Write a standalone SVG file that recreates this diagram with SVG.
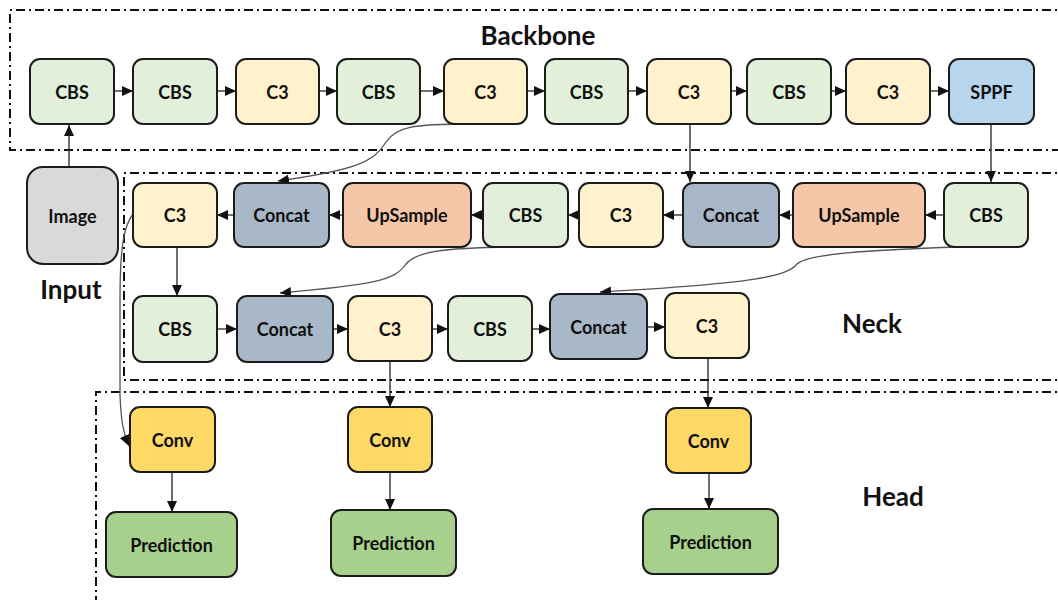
<svg xmlns="http://www.w3.org/2000/svg" width="1058" height="600" viewBox="0 0 1058 600">
  <style>
    .node rect { stroke: #1c1c1c; stroke-width: 2; }
    .node text { font-family: Lato, "Open Sans", "Liberation Sans", sans-serif; font-weight: 700; font-size: 18px; fill: #111; text-anchor: middle; dominant-baseline: central; }
    .cbs { fill: #e2efda; }
    .c3 { fill: #fff2cc; }
    .sppf { fill: #b7d5ec; }
    .concat { fill: #a9b8c8; }
    .up { fill: #f5c6a8; }
    .conv { fill: #ffd966; }
    .pred { fill: #a8d08d; }
    .img { fill: #d9d9d9; }
    .frame { fill: none; stroke: #111; stroke-width: 2; stroke-dasharray: 9 4 2 4; }
    .label { font-family: Lato, "Open Sans", "Liberation Sans", sans-serif; font-weight: 700; font-size: 26px; fill: #111; text-anchor: middle; }
    .edges path { fill: none; stroke: #222; stroke-width: 1.3; marker-end: url(#arrow); }
    .edges path.curve { stroke: #555; }
  </style>
  <defs>
    <marker id="arrow" markerUnits="userSpaceOnUse" markerWidth="12" markerHeight="10" refX="11" refY="5" orient="auto">
      <path d="M0,0 L11,5 L0,10 z" fill="#111"/>
    </marker>
  </defs>

  <rect width="1058" height="600" fill="#ffffff"/>

  <!-- section frames -->
  <g id="frames">
    <path class="frame" d="M1070,10 H10 V150 H1070"/>
    <path class="frame" d="M1070,173 H124 V380 H1070"/>
    <path class="frame" d="M1070,392 H96 V610"/>
  </g>

  <!-- section labels -->
  <text class="label" x="538" y="45">Backbone</text>
  <text class="label" x="71" y="299">Input</text>
  <text class="label" x="872" y="333">Neck</text>
  <text class="label" x="893" y="506">Head</text>

  <!-- connectors -->
  <g class="edges" id="connectors">
    <!-- input -->
    <path d="M69,167 V125"/>
    <!-- backbone chain -->
    <path d="M114,91 H133"/>
    <path d="M217,91 H236"/>
    <path d="M319,91 H337"/>
    <path d="M420,91 H444"/>
    <path d="M527,91 H545"/>
    <path d="M628,91 H647"/>
    <path d="M731,91 H747"/>
    <path d="M831,91 H846"/>
    <path d="M930,91 H949"/>
    <!-- backbone to neck -->
    <path d="M991,124 V182"/>
    <path d="M690,124 V182"/>
    <path class="curve" d="M470,124 C412,124 396,127 386,142 C374,162 356,170 278,181"/>
    <!-- neck top row (right to left) -->
    <path d="M944,215 H925"/>
    <path d="M793,215 H779"/>
    <path d="M683,215 H663"/>
    <path d="M579,215 H568"/>
    <path d="M483,215 H471"/>
    <path d="M343,215 H329"/>
    <path d="M234,215 H217"/>
    <!-- neck down links -->
    <path d="M177,247 V296"/>
    <path class="curve" d="M510,247 C440,248 416,252 406,264 C395,281 370,285 280,293"/>
    <path class="curve" d="M960,247 C865,250 808,254 797,264 C787,276 760,283 600,292"/>
    <!-- neck bottom row (left to right) -->
    <path d="M217,329 H237"/>
    <path d="M333,329 H348"/>
    <path d="M432,329 H448"/>
    <path d="M532,329 H550"/>
    <path d="M647,327 H665"/>
    <!-- neck to head -->
    <path class="curve" d="M133,214 C124,226 120,245 120,300 L120,395 C121,420 123,433 129,446"/>
    <path d="M390,361 V407"/>
    <path d="M708,358 V408"/>
    <!-- head -->
    <path d="M172,472 V512"/>
    <path d="M390,472 V510"/>
    <path d="M709,473 V509"/>
  </g>

  <!-- input -->
  <g class="node" id="image"><rect class="img" x="27" y="167" width="91" height="97" rx="16"/><text x="72.5" y="216">Image</text></g>

  <!-- backbone -->
  <g class="node" id="b-cbs1"><rect class="cbs" x="30" y="59" width="84" height="65" rx="10"/><text x="72" y="92">CBS</text></g>
  <g class="node" id="b-cbs2"><rect class="cbs" x="133" y="59" width="84" height="65" rx="10"/><text x="175" y="92">CBS</text></g>
  <g class="node" id="b-c3-1"><rect class="c3" x="236" y="59" width="83" height="65" rx="10"/><text x="277.5" y="92">C3</text></g>
  <g class="node" id="b-cbs3"><rect class="cbs" x="337" y="59" width="83" height="65" rx="10"/><text x="378.5" y="92">CBS</text></g>
  <g class="node" id="b-c3-2"><rect class="c3" x="444" y="59" width="83" height="65" rx="10"/><text x="485.5" y="92">C3</text></g>
  <g class="node" id="b-cbs4"><rect class="cbs" x="545" y="59" width="83" height="65" rx="10"/><text x="586.5" y="92">CBS</text></g>
  <g class="node" id="b-c3-3"><rect class="c3" x="647" y="59" width="84" height="65" rx="10"/><text x="689" y="92">C3</text></g>
  <g class="node" id="b-cbs5"><rect class="cbs" x="747" y="59" width="84" height="65" rx="10"/><text x="789" y="92">CBS</text></g>
  <g class="node" id="b-c3-4"><rect class="c3" x="846" y="59" width="84" height="65" rx="10"/><text x="888" y="92">C3</text></g>
  <g class="node" id="b-sppf"><rect class="sppf" x="949" y="59" width="85" height="65" rx="10"/><text x="991.5" y="92">SPPF</text></g>

  <!-- neck, top row -->
  <g class="node" id="n-c3-a"><rect class="c3" x="133" y="183" width="84" height="64" rx="10"/><text x="175" y="215">C3</text></g>
  <g class="node" id="n-concat-a"><rect class="concat" x="234" y="183" width="95" height="64" rx="10"/><text x="281.5" y="215">Concat</text></g>
  <g class="node" id="n-up-a"><rect class="up" x="343" y="183" width="128" height="64" rx="10"/><text x="407" y="215">UpSample</text></g>
  <g class="node" id="n-cbs-a"><rect class="cbs" x="483" y="183" width="85" height="64" rx="10"/><text x="525.5" y="215">CBS</text></g>
  <g class="node" id="n-c3-b"><rect class="c3" x="579" y="183" width="84" height="64" rx="10"/><text x="621" y="215">C3</text></g>
  <g class="node" id="n-concat-b"><rect class="concat" x="683" y="183" width="96" height="64" rx="10"/><text x="731" y="215">Concat</text></g>
  <g class="node" id="n-up-b"><rect class="up" x="793" y="183" width="132" height="64" rx="10"/><text x="859" y="215">UpSample</text></g>
  <g class="node" id="n-cbs-b"><rect class="cbs" x="944" y="183" width="84" height="64" rx="10"/><text x="986" y="215">CBS</text></g>

  <!-- neck, bottom row -->
  <g class="node" id="n-cbs-c"><rect class="cbs" x="133" y="296" width="84" height="66" rx="10"/><text x="175" y="329">CBS</text></g>
  <g class="node" id="n-concat-c"><rect class="concat" x="237" y="296" width="96" height="66" rx="10"/><text x="285" y="329">Concat</text></g>
  <g class="node" id="n-c3-c"><rect class="c3" x="348" y="296" width="84" height="65" rx="10"/><text x="390" y="329">C3</text></g>
  <g class="node" id="n-cbs-d"><rect class="cbs" x="448" y="296" width="84" height="65" rx="10"/><text x="490" y="329">CBS</text></g>
  <g class="node" id="n-concat-d"><rect class="concat" x="550" y="294" width="97" height="65" rx="10"/><text x="598.5" y="327">Concat</text></g>
  <g class="node" id="n-c3-d"><rect class="c3" x="665" y="293" width="84" height="65" rx="10"/><text x="707" y="326">C3</text></g>

  <!-- head -->
  <g class="node" id="h-conv1"><rect class="conv" x="130" y="407" width="85" height="65" rx="10"/><text x="172.5" y="440">Conv</text></g>
  <g class="node" id="h-conv2"><rect class="conv" x="348" y="407" width="84" height="65" rx="10"/><text x="390" y="440">Conv</text></g>
  <g class="node" id="h-conv3"><rect class="conv" x="666" y="408" width="85" height="65" rx="10"/><text x="708.5" y="441">Conv</text></g>
  <g class="node" id="h-pred1"><rect class="pred" x="106" y="512" width="131" height="65" rx="10"/><text x="171.5" y="545">Prediction</text></g>
  <g class="node" id="h-pred2"><rect class="pred" x="331" y="510" width="125" height="66" rx="10"/><text x="393.5" y="543">Prediction</text></g>
  <g class="node" id="h-pred3"><rect class="pred" x="643" y="509" width="135" height="65" rx="10"/><text x="710.5" y="542">Prediction</text></g>
</svg>
